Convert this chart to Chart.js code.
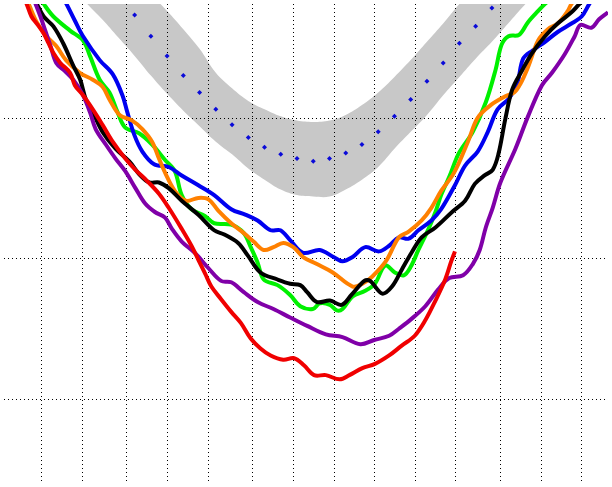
<!DOCTYPE html>
<html>
<head>
<meta charset="utf-8">
<script src="https://cdn.jsdelivr.net/npm/chart.js@4"></script>
<style>
    html, body { margin: 0; padding: 0; background: #fff; }
    #wrap { width: 612px; height: 487px; position: relative; }
</style>
</head>
<body>
<div id="wrap"><canvas id="iceChart"></canvas></div>
<script>
// x = day of year, y = extent (gridlines at 4, 5, 6)
const gridDays = [192, 202, 213, 223, 233, 244, 254, 264, 274, 284, 294, 305, 315, 325];
const gridValues = [4, 5, 6];

// climatology: mean (blue diamonds) and grey band, every 4 days
const climDays = [199, 203, 207, 211, 215, 219, 223, 227, 231, 235, 239, 243, 247, 251, 255,
    259, 263, 267, 271, 275, 279, 283, 287, 291, 295, 299, 303, 307, 311, 315];
const climMean = [7.31, 7.17, 7.02, 6.88, 6.73, 6.58, 6.44, 6.30, 6.18, 6.06, 5.95, 5.86, 5.79, 5.74, 5.71,
    5.69, 5.71, 5.75, 5.81, 5.90, 6.01, 6.13, 6.26, 6.39, 6.53, 6.65, 6.78, 6.91, 7.03, 7.16];
const climUpper = [7.59, 7.45, 7.30, 7.16, 7.01, 6.88, 6.76, 6.63, 6.49, 6.32, 6.21, 6.12, 6.06, 6.01, 5.98,
    5.97, 5.98, 6.02, 6.09, 6.18, 6.29, 6.41, 6.54, 6.67, 6.81, 6.93, 7.06, 7.19, 7.31, 7.44];
const climLower = [6.96, 6.82, 6.70, 6.57, 6.44, 6.30, 6.17, 6.05, 5.94, 5.83, 5.74, 5.64, 5.56, 5.49, 5.45,
    5.44, 5.44, 5.49, 5.56, 5.65, 5.78, 5.90, 6.02, 6.16, 6.29, 6.42, 6.54, 6.67, 6.80, 6.92];

// yearly curves as [day, value]
const greenYear = [[191.8, 6.85], [192.6, 6.81], [195.0, 6.72], [199.1, 6.62], [202.3, 6.55], [204.0, 6.44],
    [206.4, 6.27], [208.8, 6.18], [210.8, 6.04], [212.7, 5.93], [216.1, 5.89], [219.3, 5.81], [222.5, 5.70],
    [224.9, 5.62], [226.6, 5.45], [229.0, 5.35], [232.4, 5.30], [234.6, 5.25], [238.8, 5.24], [241.9, 5.18],
    [243.6, 5.08], [245.3, 4.97], [246.8, 4.85], [250.2, 4.81], [253.3, 4.74], [255.8, 4.66], [258.9, 4.64],
    [260.6, 4.68], [263.1, 4.67], [264.8, 4.63], [266.2, 4.64], [268.7, 4.73], [271.8, 4.77], [274.2, 4.82],
    [276.7, 4.95], [279.1, 4.90], [281.3, 4.88], [283.0, 4.94], [284.9, 5.06], [287.4, 5.21], [289.1, 5.33],
    [290.5, 5.45], [292.5, 5.58], [294.9, 5.75], [298.3, 5.90], [301.5, 6.11], [303.9, 6.34], [305.4, 6.52],
    [307.1, 6.58], [309.7, 6.59], [311.9, 6.68], [314.4, 6.76], [316.1, 6.81], [317.3, 6.84]];

const blueYear = [[197.4, 6.85], [198.2, 6.81], [200.3, 6.69], [202.3, 6.58], [206.4, 6.41], [209.6, 6.31],
    [212.0, 6.16], [213.2, 6.04], [214.9, 5.88], [216.9, 5.76], [219.8, 5.67], [223.4, 5.65], [226.6, 5.59],
    [230.7, 5.52], [234.6, 5.45], [238.8, 5.35], [242.4, 5.31], [245.3, 5.27], [248.5, 5.20], [250.9, 5.20],
    [253.3, 5.13], [256.5, 5.04], [260.6, 5.06], [264.0, 5.01], [266.2, 4.98], [268.7, 5.01], [271.8, 5.08],
    [275.2, 5.05], [277.7, 5.09], [280.1, 5.15], [282.5, 5.14], [284.9, 5.20], [288.1, 5.27], [290.5, 5.35],
    [293.9, 5.52], [296.4, 5.66], [299.5, 5.76], [302.0, 5.90], [304.4, 6.06], [307.3, 6.14], [309.3, 6.25],
    [310.7, 6.42], [313.1, 6.48], [316.1, 6.54], [319.2, 6.61], [322.6, 6.67], [325.1, 6.72], [327.0, 6.81],
    [328.0, 6.85]];

const orangeYear = [[188.2, 6.85], [188.9, 6.81], [190.9, 6.68], [193.3, 6.58], [195.7, 6.51], [198.1, 6.41],
    [201.5, 6.32], [204.7, 6.27], [207.1, 6.22], [208.8, 6.13], [211.3, 6.02], [214.4, 5.98], [216.9, 5.92],
    [219.3, 5.83], [221.0, 5.71], [222.5, 5.61], [224.9, 5.48], [227.6, 5.41], [230.7, 5.43], [233.2, 5.42],
    [235.6, 5.34], [238.8, 5.25], [241.9, 5.18], [244.3, 5.12], [246.8, 5.06], [249.2, 5.08], [251.6, 5.11],
    [254.1, 5.08], [256.5, 5.01], [259.9, 4.96], [263.8, 4.90], [268.7, 4.80], [271.1, 4.82], [273.5, 4.87],
    [276.9, 4.98], [280.1, 5.15], [282.5, 5.19], [285.7, 5.27], [288.1, 5.36], [290.5, 5.48], [293.7, 5.61],
    [297.1, 5.83], [299.5, 6.00], [302.7, 6.09], [306.1, 6.15], [308.5, 6.18], [310.0, 6.24], [311.9, 6.36],
    [314.4, 6.55], [316.8, 6.63], [319.2, 6.67], [321.7, 6.76], [322.6, 6.81], [323.6, 6.84]];

const blackYear = [[190.1, 6.85], [190.9, 6.81], [192.6, 6.72], [195.0, 6.65], [197.4, 6.53], [199.9, 6.37],
    [201.6, 6.27], [203.0, 6.13], [204.7, 6.04], [207.1, 5.90], [210.3, 5.78], [213.7, 5.69], [216.1, 5.60],
    [218.6, 5.54], [221.0, 5.54], [223.4, 5.50], [226.6, 5.41], [230.7, 5.31], [234.6, 5.20], [237.1, 5.17],
    [240.5, 5.11], [242.9, 5.02], [246.0, 4.90], [250.2, 4.85], [253.3, 4.82], [255.8, 4.81], [257.5, 4.76],
    [259.9, 4.69], [263.1, 4.70], [266.0, 4.67], [268.4, 4.74], [271.6, 4.84], [273.0, 4.84], [276.0, 4.75],
    [278.4, 4.80], [280.8, 4.92], [283.2, 5.04], [285.7, 5.15], [289.1, 5.22], [293.2, 5.33], [296.4, 5.41],
    [298.8, 5.53], [301.2, 5.59], [303.2, 5.63], [304.6, 5.74], [306.3, 5.99], [308.0, 6.20], [310.5, 6.34],
    [312.9, 6.46], [316.1, 6.58], [319.2, 6.67], [322.6, 6.75], [324.6, 6.81], [325.8, 6.84]];

const purpleYear = [[189.9, 6.85], [190.6, 6.81], [191.8, 6.72], [193.0, 6.62], [194.3, 6.51], [195.7, 6.39],
    [197.9, 6.33], [199.9, 6.27], [202.3, 6.16], [204.0, 6.04], [205.4, 5.92], [207.9, 5.81], [210.3, 5.71],
    [212.7, 5.62], [215.2, 5.50], [217.6, 5.39], [220.0, 5.33], [222.5, 5.29], [224.2, 5.21], [226.6, 5.12],
    [229.8, 5.04], [233.2, 4.93], [236.3, 4.84], [238.8, 4.83], [241.9, 4.76], [245.3, 4.69], [249.2, 4.64],
    [253.3, 4.58], [257.5, 4.52], [262.1, 4.46], [266.2, 4.44], [270.6, 4.39], [274.0, 4.42], [277.7, 4.45],
    [280.1, 4.50], [283.2, 4.57], [286.6, 4.66], [289.8, 4.78], [292.5, 4.86], [295.9, 4.88], [298.3, 4.96],
    [300.0, 5.06], [301.5, 5.22], [303.2, 5.36], [305.1, 5.54], [308.8, 5.78], [311.9, 6.01], [315.3, 6.23],
    [317.8, 6.32], [320.9, 6.45], [323.4, 6.58], [324.8, 6.66], [327.5, 6.64], [329.4, 6.70], [331.6, 6.75],
    [333.6, 6.80]];

const redYear = [[187.7, 6.85], [188.4, 6.81], [189.6, 6.72], [190.9, 6.67], [192.6, 6.60], [193.8, 6.53],
    [195.0, 6.46], [196.7, 6.39], [199.1, 6.32], [200.3, 6.23], [202.3, 6.16], [204.7, 6.06], [207.1, 5.95],
    [209.6, 5.83], [212.7, 5.71], [215.2, 5.63], [218.1, 5.55], [221.0, 5.46], [223.4, 5.36], [226.6, 5.21],
    [229.0, 5.09], [230.7, 4.99], [232.4, 4.89], [233.9, 4.80], [236.3, 4.71], [238.8, 4.62], [241.2, 4.54],
    [243.6, 4.43], [246.0, 4.36], [248.5, 4.31], [251.6, 4.28], [254.3, 4.29], [256.7, 4.24], [259.2, 4.17],
    [262.1, 4.17], [265.5, 4.14], [267.9, 4.17], [271.1, 4.22], [274.2, 4.25], [277.7, 4.31], [280.8, 4.38],
    [284.0, 4.45], [286.6, 4.56], [289.1, 4.70], [291.5, 4.85], [293.0, 4.98], [293.9, 5.05]];

const xMin = 182.83, xMax = 331.6;
const yMin = 3.403, yMax = 6.809;

function pairs(days, vals) {
    return days.map((d, i) => ({ x: d, y: vals[i] }));
}
function toPoints(series) {
    return series.map(p => ({ x: p[0], y: p[1] }));
}
function yearLine(series, color) {
    return {
        data: toPoints(series),
        borderColor: color,
        borderWidth: 4,
        pointRadius: 0,
        tension: 0.35,
        fill: false
    };
}

// dotted grid, drawn right after the grey band so the curves sit on top of it
const dottedGrid = {
    id: 'dottedGrid',
    afterDatasetDraw(chart, args) {
        if (args.index !== chart.data.datasets.length - 1) return;
        const { ctx, chartArea, scales } = chart;
        ctx.save();
        ctx.strokeStyle = '#000';
        ctx.lineWidth = 1;
        ctx.setLineDash([1, 3]);
        ctx.beginPath();
        gridDays.forEach(d => {
            const px = Math.round(scales.x.getPixelForValue(d)) + 0.5;
            ctx.moveTo(px, chartArea.top);
            ctx.lineTo(px, chartArea.bottom);
        });
        gridValues.forEach(v => {
            const py = Math.round(scales.y.getPixelForValue(v)) + 0.5;
            ctx.moveTo(chartArea.left, py);
            ctx.lineTo(chartArea.right, py);
        });
        ctx.stroke();
        ctx.restore();
    }
};

// first dataset in the list ends up on top
new Chart(document.getElementById('iceChart'), {
    type: 'line',
    data: {
        datasets: [
            yearLine(redYear, '#f00000'),
            yearLine(purpleYear, '#8000a8'),
            yearLine(blackYear, '#000000'),
            yearLine(orangeYear, '#ff8000'),
            yearLine(blueYear, '#0000f0'),
            yearLine(greenYear, '#00f000'),
            {
                data: pairs(climDays, climMean),
                showLine: false,
                pointStyle: 'rectRot',
                pointRadius: 2.5,
                pointBorderWidth: 0,
                pointBackgroundColor: '#0a0ad8'
            },
            {
                data: pairs(climDays, climLower),
                borderWidth: 0,
                pointRadius: 0,
                tension: 0.4,
                fill: false
            },
            {
                data: pairs(climDays, climUpper),
                borderWidth: 0,
                pointRadius: 0,
                tension: 0.4,
                backgroundColor: '#c8c8c8',
                fill: '-1'
            }
        ]
    },
    options: {
        responsive: true,
        maintainAspectRatio: false,
        animation: false,
        layout: { padding: 0 },
        plugins: {
            legend: { display: false },
            tooltip: { enabled: false }
        },
        scales: {
            x: { type: 'linear', min: xMin, max: xMax, display: false },
            y: { type: 'linear', min: yMin, max: yMax, display: false }
        }
    },
    plugins: [dottedGrid]
});
</script>
</body>
</html>
